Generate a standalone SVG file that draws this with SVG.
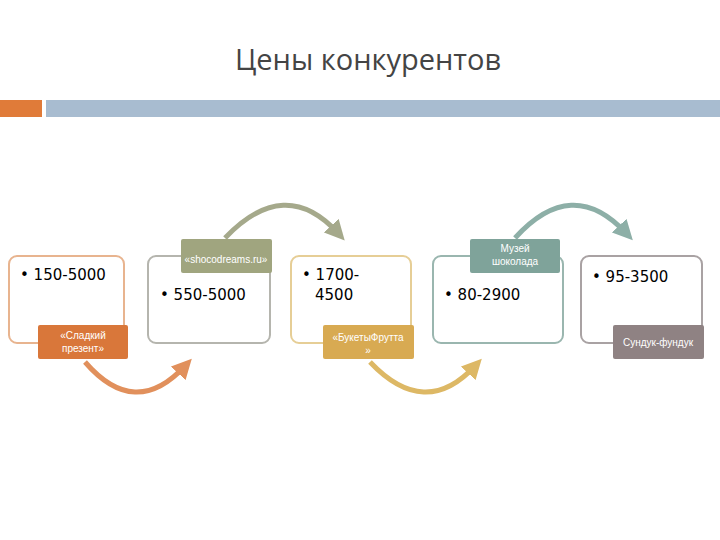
<svg xmlns="http://www.w3.org/2000/svg" width="720" height="540" viewBox="0 0 720 540">
<style>
.box{fill:#fff;stroke-width:2}
.lbl{font-family:"Liberation Sans",Arial,sans-serif;font-size:10px;fill:#fff;text-anchor:middle}
.val{font-family:"DejaVu Sans",sans-serif;font-size:15px;fill:#000}
.arc{fill:none;stroke-width:5}
</style>
<defs>
<marker id="mo" markerWidth="4" markerHeight="4" refX="2" refY="2" orient="auto"><path d="M0,0L4,2L0,4z" fill="#E1905C"/></marker>
<marker id="mg" markerWidth="4" markerHeight="4" refX="2" refY="2" orient="auto"><path d="M0,0L4,2L0,4z" fill="#A5A98B"/></marker>
<marker id="my" markerWidth="4" markerHeight="4" refX="2" refY="2" orient="auto"><path d="M0,0L4,2L0,4z" fill="#DDB865"/></marker>
<marker id="mt" markerWidth="4" markerHeight="4" refX="2" refY="2" orient="auto"><path d="M0,0L4,2L0,4z" fill="#8DAFA7"/></marker>
</defs>
<rect width="720" height="540" fill="#fff"/>
<text x="368" y="70" font-family="'Open Sans','DejaVu Sans',sans-serif" font-size="29" fill="#444" text-anchor="middle">Цены конкурентов</text>
<rect x="0" y="100" width="42" height="17" fill="#E07B39"/>
<rect x="46" y="100" width="674" height="17" fill="#A8BCD0"/>
<g id="connectors">
<path class="arc" stroke="#E1905C" marker-end="url(#mo)" d="M85,362 Q135,420 185,366"/>
<path class="arc" stroke="#A5A98B" marker-end="url(#mg)" d="M225,238 Q285,175 338,233"/>
<path class="arc" stroke="#DDB865" marker-end="url(#my)" d="M370,362 Q425,420 475,366"/>
<path class="arc" stroke="#8DAFA7" marker-end="url(#mt)" d="M515,238 Q572,175 626,233"/>
</g>
<g id="n1">
<rect class="box" x="9" y="256" width="115" height="87" rx="8" stroke="#E8B48F"/>
<text class="val" x="20" y="280">• 150-5000</text>
<rect x="38" y="325" width="90" height="34" rx="2" fill="#D9773A"/>
<text class="lbl" x="83" y="339">«Сладкий</text><text class="lbl" x="83" y="352">презент»</text>
</g>
<g id="n2">
<rect class="box" x="148" y="256" width="122" height="87" rx="8" stroke="#B5B5AE"/>
<text class="val" x="160" y="300">• 550-5000</text>
<rect x="181" y="239" width="91" height="34" rx="2" fill="#A0A57F"/>
<text class="lbl" x="226" y="263" font-size="9">«shocodreams.ru»</text>
</g>
<g id="n3">
<rect class="box" x="291" y="256" width="120" height="87" rx="8" stroke="#E6CE96"/>
<text class="val" x="302" y="280">• 1700-</text><text class="val" x="315" y="300">4500</text>
<rect x="323" y="325" width="91" height="34" rx="2" fill="#D8AA52"/>
<text class="lbl" x="368" y="341">«БукетыФрутта</text><text class="lbl" x="368" y="354">»</text>
</g>
<g id="n4">
<rect class="box" x="433" y="256" width="130" height="87" rx="8" stroke="#9AB6AF"/>
<text class="val" x="444" y="300">• 80-2900</text>
<rect x="470" y="239" width="90" height="34" rx="2" fill="#7FA39A"/>
<text class="lbl" x="515" y="252">Музей</text><text class="lbl" x="515" y="265">шоколада</text>
</g>
<g id="n5">
<rect class="box" x="581" y="256" width="121" height="87" rx="8" stroke="#A9A2A3"/>
<text class="val" x="592" y="282">• 95-3500</text>
<rect x="613" y="325" width="91" height="34" rx="2" fill="#8F8283"/>
<text class="lbl" x="658" y="346">Сундук-фундук</text>
</g>
</svg>
